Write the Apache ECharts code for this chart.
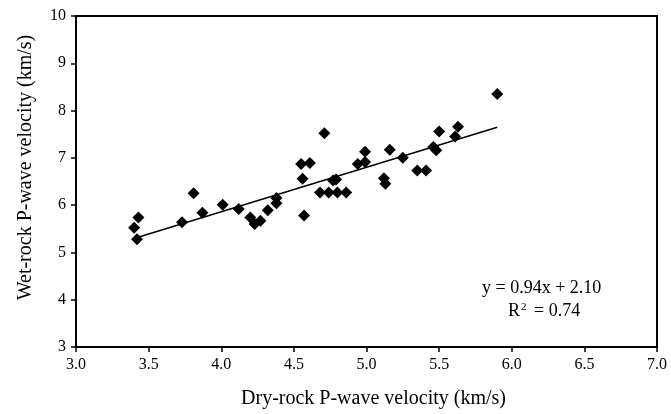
<!DOCTYPE html>
<html>
<head>
<meta charset="utf-8">
<script src="https://cdn.jsdelivr.net/npm/echarts@6/dist/echarts.min.js"></script>
<style>html,body{margin:0;padding:0;background:#fff;}#c{width:671px;height:414px;}</style>
</head>
<body>
<div id="c"></div>
<script>
var dryVel = [3.40,3.43,3.42,3.73,3.81,3.87,4.01,4.12,4.20,4.27,4.23,4.32,4.38,4.38,4.71,4.55,4.61,4.56,4.57,4.68,4.74,4.80,4.86,4.77,4.79,4.99,4.94,4.99,5.16,5.25,5.12,5.13,5.35,5.41,5.46,5.48,5.50,5.61,5.63,5.90];
var wetVel = [5.52,5.74,5.28,5.64,6.25,5.84,6.01,5.92,5.74,5.67,5.60,5.89,6.15,6.04,7.52,6.87,6.89,6.56,5.78,6.27,6.27,6.27,6.27,6.52,6.54,7.13,6.87,6.91,7.17,7.00,6.57,6.45,6.73,6.73,7.23,7.16,7.56,7.45,7.66,8.35];
var slope = 0.94, intercept = 2.10;
var fitRange = [3.41, 5.90];
var xTicks = ['3.0','3.5','4.0','4.5','5.0','5.5','6.0','6.5','7.0'];

var pts = dryVel.map(function(x,i){return [x, wetVel[i]];});
var fit = fitRange.map(function(x){return [x, slope*x+intercept];});
var font = '"Liberation Serif", "Times New Roman", serif';

var chart = echarts.init(document.getElementById('c'));
chart.setOption({
  animation: false,
  textStyle: {fontFamily: font},
  grid: {left: 76, right: 14, top: 16, bottom: 67, show: true, borderColor: '#000', borderWidth: 2, backgroundColor: 'transparent'},
  xAxis: {
    type: 'value', min: 3, max: 7, interval: 0.5,
    name: 'Dry-rock P-wave velocity (km/s)', nameLocation: 'middle', nameGap: 42,
    nameTextStyle: {fontFamily: font, fontSize: 20, color: '#000', padding: [0, 0, 0, 14]},
    axisLine: {show: true, lineStyle: {color: '#000', width: 2}},
    axisTick: {show: true, inside: false, length: 5, lineStyle: {color: '#000', width: 1.5}},
    axisLabel: {fontFamily: font, fontSize: 16, color: '#000', margin: 10,
      formatter: function(v){ return xTicks[Math.round((v-3)/0.5)]; }},
    splitLine: {show: false}
  },
  yAxis: {
    type: 'value', min: 3, max: 10, interval: 1,
    name: 'Wet-rock P-wave velocity (km/s)', nameLocation: 'middle', nameGap: 40,
    nameTextStyle: {fontFamily: font, fontSize: 20, color: '#000', padding: [0, 0, 0, 28]},
    axisLine: {show: true, lineStyle: {color: '#000', width: 2}},
    axisTick: {show: true, inside: false, length: 5, lineStyle: {color: '#000', width: 1.5}},
    axisLabel: {fontFamily: font, fontSize: 16, color: '#000', margin: 10},
    splitLine: {show: false}
  },
  graphic: [{
    type: 'text', left: 482, top: 279,
    style: {text: 'y = 0.94x + 2.10', font: '18px ' + font, fill: '#000'}
  }, {
    type: 'text', left: 508, top: 302,
    style: {text: '{a|R}{s|2}{a| = 0.74}', font: '18px ' + font, fill: '#000',
      rich: {a: {fontFamily: font, fontSize: 18, fill: '#000'}, s: {fontFamily: font, fontSize: 11, verticalAlign: 'top', padding: [0,3,8,1], fill: '#000'}}}
  }],
  series: [{
    type: 'line', data: fit, symbol: 'none', z: 1,
    lineStyle: {color: '#000', width: 1.5}
  }, {
    type: 'scatter', data: pts, symbol: 'diamond', symbolSize: 12, z: 2,
    itemStyle: {color: '#000', opacity: 1}
  }]
});
</script>
</body>
</html>
